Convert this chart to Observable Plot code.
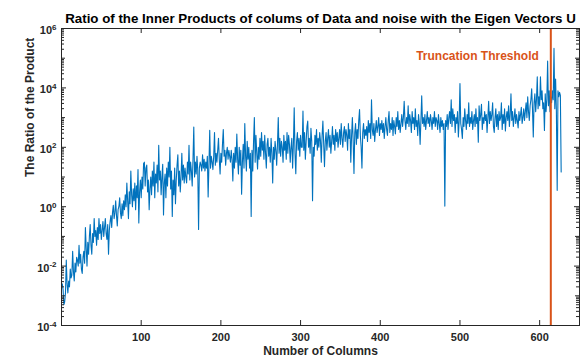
<!DOCTYPE html>
<html><head><meta charset="utf-8">
<script src="https://cdn.jsdelivr.net/npm/d3@7"></script>
<script src="https://cdn.jsdelivr.net/npm/@observablehq/plot@0.6"></script>
<style>body{margin:0;background:#fff;}</style>
</head><body><div id="chart"></div>
<script>
const chartTitle = "Ratio of the Inner Products of colums of Data and noise with the Eigen Vectors U";
const xLabel = "Number of Columns";
const yLabel = "The Ratio of the Product";
const thresholdLabel = "Truncation Threshold";
const truncationThreshold = [614];
const xDomain = [0, 650];
const xTicks = [100, 200, 300, 400, 500, 600];
const yLabeledExponents = [-4, -2, 0, 2, 4, 6];
// log10 of the ratio, one value per column
const log10Ratio = [
-2.6,-2.8,-3.3,-3.2,-2.9,-1.8,-2.6,-2.9,-2.5,-2.7,
-2.1,-2.4,-2.3,-1.5,-2.2,-2.5,-1.9,-2.2,-1.7,-1.8,
-2.0,-1.3,-1.9,-1.6,-2.1,-2.25,-1.7,-1.5,-1.9,-0.7,
-1.4,-2.0,-1.2,-1.6,-1.0,-0.6,-1.3,-1.6,-0.9,-1.2,
-0.4,-1.0,-0.8,-1.3,-0.7,-1.1,-0.4,-0.9,-0.6,-1.1,
-0.8,-0.5,-1.0,-0.7,-0.4,-0.9,-1.1,-0.6,-1.6,-0.8,
-0.5,-0.3,-0.7,-0.2,0.05,-0.4,-0.2,0.2,-0.3,-0.65,
-0.1,0.0,0.3,-0.2,-0.4,0.1,-0.3,0.2,-0.1,0.4,
0.0,0.8,0.2,-0.4,0.5,0.1,1.2,0.4,0.0,0.6,
0.2,0.8,-0.1,0.7,0.3,1.25,-0.55,0.5,0.9,0.3,
1.0,0.6,1.45,1.5,0.7,1.3,1.4,0.5,0.9,-0.1,
0.6,1.0,0.4,1.2,0.7,1.5,0.3,1.1,0.8,1.4,
0.5,2.07,0.9,1.2,0.4,1.0,1.43,-0.28,0.8,1.1,
0.3,1.3,0.7,1.5,1.0,2.0,0.6,1.2,-0.33,0.9,
0.4,1.3,0.1,0.9,1.4,1.75,0.7,1.2,0.5,1.0,
1.8,0.9,1.4,0.8,1.3,1.0,0.8,1.5,1.1,2.07,
0.9,1.5,1.2,0.7,1.6,2.68,1.0,1.5,1.1,1.7,
1.2,-0.77,1.3,1.5,1.4,1.2,1.75,1.3,1.6,1.2,
1.5,1.3,1.7,0.33,1.4,2.57,1.3,1.7,1.5,1.25,
1.7,2.5,1.4,1.8,1.5,1.9,2.3,1.6,1.1,1.8,
1.5,2.1,2.6,1.7,1.9,1.4,1.8,2.0,1.6,1.9,
1.7,1.5,1.9,1.6,0.87,1.8,1.3,2.0,1.5,2.45,
1.6,1.1,2.0,1.4,1.9,0.42,1.5,2.1,1.3,2.8,
1.7,1.2,2.2,1.6,2.0,1.3,1.8,-0.33,1.9,1.2,
2.2,3.0,1.5,2.4,1.8,1.27,2.0,1.6,2.3,1.7,
2.5,1.9,2.2,1.6,2.4,1.8,1.3,2.1,2.3,1.7,
2.0,1.5,2.3,1.8,0.8,2.0,1.6,2.2,1.9,1.4,
2.1,3.0,1.8,2.3,1.7,2.2,2.0,1.5,2.4,1.9,
2.2,1.6,2.5,1.8,2.4,2.1,1.5,2.0,2.3,1.3,
2.1,3.33,1.8,1.11,2.2,2.5,1.9,2.3,1.7,2.4,2.0,
2.0,3.22,1.9,2.5,1.6,2.2,2.7,2.88,2.0,2.3,
1.8,2.64,2.2,0.2,2.0,1.7,2.4,2.1,2.6,1.9,
2.3,2.0,2.5,2.2,1.5,2.4,2.88,2.1,1.35,2.2,
2.5,1.9,2.3,2.6,2.0,2.4,1.8,2.2,2.7,2.1,
2.4,1.9,2.6,2.2,2.5,2.0,2.3,2.6,2.1,2.8,
2.3,2.0,2.5,2.7,2.2,2.6,2.4,1.9,2.8,2.3,
2.6,1.5,2.4,3.0,2.2,1.12,2.5,2.8,2.1,2.6,
2.3,2.9,3.27,2.4,2.0,1.3,2.5,2.8,2.3,2.6,
2.4,2.7,2.2,2.9,2.5,2.8,2.3,3.6,2.6,2.4,
2.8,2.2,2.6,2.9,2.5,2.7,3.0,2.4,2.8,2.6,
2.9,2.5,2.8,2.3,2.7,3.0,2.6,2.4,2.9,3.2,
2.5,2.8,2.6,3.0,2.4,2.9,2.7,2.45,3.0,2.7,
3.2,2.6,2.9,2.5,2.8,3.1,2.7,3.0,3.55,2.9,
2.6,3.0,2.8,3.4,2.7,3.1,2.9,2.5,3.2,2.8,
3.0,2.6,3.3,2.7,2.9,2.4,3.1,2.8,2.1,2.9,
3.73,2.8,3.0,2.7,3.1,2.6,2.9,3.2,2.8,3.0,
2.7,3.1,2.9,2.6,3.0,2.8,3.2,2.7,3.0,2.9,
2.6,3.1,2.8,2.5,3.0,2.7,2.9,2.6,2.8,0.02,
2.9,2.7,3.1,2.6,3.0,3.2,2.8,3.6,2.7,3.3,
2.9,3.1,2.5,3.0,2.8,3.2,2.35,2.9,4.15,2.8,2.6,
2.3,3.0,2.7,3.3,2.9,2.6,3.1,2.8,3.5,2.7,
3.0,2.8,3.2,2.6,2.9,3.1,2.7,3.3,2.8,3.0,
2.17,3.4,2.9,3.1,3.45,2.6,3.0,2.8,3.2,2.9,
3.1,2.5,3.0,3.55,2.8,3.2,2.9,3.1,3.5,2.7,
2.5,3.0,3.3,2.7,3.1,2.6,3.2,2.9,3.0,3.5,
2.6,3.1,2.8,3.3,2.55,3.0,3.2,2.9,3.4,2.7,
3.1,3.8,2.9,3.2,2.7,3.0,3.3,2.8,3.1,2.9,
2.65,3.2,2.9,3.1,3.35,2.8,3.0,3.3,2.9,3.2,
3.5,3.0,3.7,3.2,2.9,3.4,3.6,3.97,3.3,2.35,
3.5,3.8,3.2,3.6,4.37,3.3,3.7,3.4,4.37,3.6,
3.9,3.3,3.5,2.57,3.8,3.2,3.6,4.9,3.4,3.9,
3.2,3.7,3.5,3.9,3.6,5.33,3.3,4.3,3.2,0.55,
3.9,3.7,3.85,3.75,1.17
];

const blue = "#0072BD", orange = "#D95319", axisColor = "#262626";
const W = 587, H = 361, mL = 61, mR = 8, mT = 28, mB = 36;
const fw = W - mL - mR, fh = H - mT - mB;

const rows = log10Ratio.map((v, i) => ({column: i + 1, ratio: 10 ** v}));
const yLabeled = yLabeledExponents.map(e => 10 ** e);
const yDecades = d3.range(-4, 7).map(e => 10 ** e).filter(v => !yLabeled.includes(v));
const yMinor = d3.range(-4, 6).flatMap(e => d3.range(2, 10).map(m => m * 10 ** e));

const tickOpts = {stroke: axisColor, strokeWidth: 1};
const plot = Plot.plot({
  width: W, height: H, marginLeft: mL, marginRight: mR, marginTop: mT, marginBottom: mB,
  style: {fontFamily: "'Liberation Sans', Arial, Helvetica, sans-serif", fontSize: "11px", fontWeight: "bold", color: axisColor, background: "#fff"},
  x: {domain: xDomain},
  y: {type: "log", domain: [1e-4, 1e6]},
  marks: [
    Plot.lineY(rows, {x: "column", y: "ratio", stroke: blue, strokeWidth: 1.1}),
    Plot.ruleX(truncationThreshold, {x: d => d, stroke: orange, strokeWidth: 2}),
    Plot.text(truncationThreshold, {x: d => d, text: () => thresholdLabel, frameAnchor: "top", dy: 23, dx: -12, textAnchor: "end", fill: orange, fontSize: 12, fontWeight: "bold"}),
    Plot.frame({stroke: axisColor, strokeWidth: 1}),
    Plot.tickX(xTicks, {x: d => d, insetTop: fh - 5, ...tickOpts}),
    Plot.tickX(xTicks, {x: d => d, insetBottom: fh - 5, ...tickOpts}),
    Plot.tickY(yLabeled, {y: d => d, insetRight: fw - 5, ...tickOpts}),
    Plot.tickY(yLabeled, {y: d => d, insetLeft: fw - 5, ...tickOpts}),
    Plot.tickY(yDecades, {y: d => d, insetRight: fw - 4, ...tickOpts}),
    Plot.tickY(yDecades, {y: d => d, insetLeft: fw - 4, ...tickOpts}),
    Plot.tickY(yMinor, {y: d => d, insetRight: fw - 3, ...tickOpts}),
    Plot.tickY(yMinor, {y: d => d, insetLeft: fw - 3, ...tickOpts}),
    Plot.axisX({ticks: xTicks, tickSize: 0, tickPadding: 8, label: null, tickFormat: d => String(d), fill: axisColor}),
    Plot.axisY({ticks: yLabeled, tickSize: 0, tickPadding: 5, label: null, tickFormat: d => "10|" + Math.round(Math.log10(d)), fill: axisColor, dy: 2}),
    Plot.text([chartTitle], {frameAnchor: "top", dy: -15, fontSize: 13.3, fontWeight: "bold", fill: "#000"}),
    Plot.text([xLabel], {frameAnchor: "bottom", dy: 29, fontSize: 12, fontWeight: "bold", fill: axisColor}),
    Plot.text([yLabel], {frameAnchor: "left", dx: -31, rotate: -90, fontSize: 12, fontWeight: "bold", fill: axisColor})
  ]
});

d3.select(plot).selectAll('g[aria-label="y-axis tick label"] text').each(function () {
  const t = d3.select(this);
  const parts = t.text().split("|");
  if (parts.length === 2) {
    t.text(parts[0]);
    t.append("tspan").attr("dy", "-0.55em").attr("font-size", "8px").text(parts[1]);
  }
});

document.getElementById("chart").appendChild(plot);
</script>
</body></html>
